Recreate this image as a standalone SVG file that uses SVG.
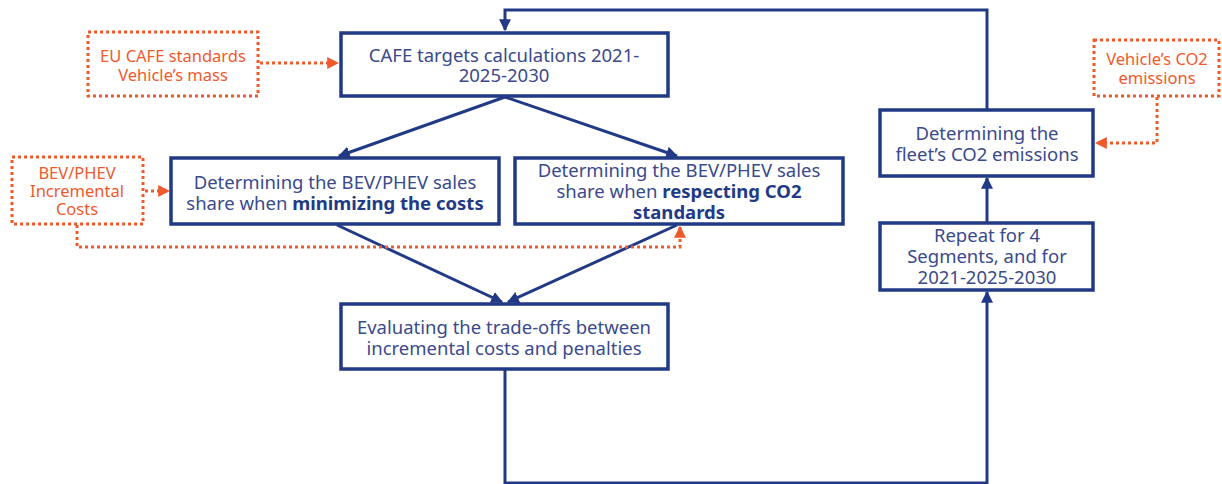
<svg xmlns="http://www.w3.org/2000/svg" width="1222" height="484" viewBox="0 0 1222 484">
<style>
.box{fill:#fff;stroke:#223a86;stroke-width:3.5}
.dbox{fill:none;stroke:#ef5a2c;stroke-width:3;stroke-dasharray:3 3}
.ln{fill:none;stroke:#223a86;stroke-width:3}
.dl{fill:none;stroke:#ef5a2c;stroke-width:3;stroke-dasharray:3 3}
.t{font-family:"Noto Sans","Open Sans",sans-serif;font-size:18.5px;fill:#3a4a8c;text-anchor:middle}
.o{font-family:"Noto Sans","Open Sans",sans-serif;font-size:16.5px;fill:#ef5a2c;text-anchor:middle}
.b{font-weight:bold;fill:#223a86}
</style>
<defs>
<marker id="ab" viewBox="0 0 10 10" refX="9" refY="5" markerWidth="4" markerHeight="4" orient="auto" markerUnits="strokeWidth"><path d="M0,0L10,5L0,10z" fill="#223a86"/></marker>
<marker id="ao" viewBox="0 0 10 10" refX="9" refY="5" markerWidth="4" markerHeight="4" orient="auto" markerUnits="strokeWidth"><path d="M0,0L10,5L0,10z" fill="#ef5a2c"/></marker>
</defs>
<g id="connectors">
<path class="ln" d="M987,110V10H505V30" marker-end="url(#ab)"/>
<path class="ln" d="M505,97L339,156" marker-end="url(#ab)"/>
<path class="ln" d="M505,97L677,156" marker-end="url(#ab)"/>
<path class="ln" d="M337,225L502,302" marker-end="url(#ab)"/>
<path class="ln" d="M677,225L508,302" marker-end="url(#ab)"/>
<path class="ln" d="M505,370V483H987V292" marker-end="url(#ab)"/>
<path class="ln" d="M987,222V178" marker-end="url(#ab)"/>
<path class="dl" d="M260,63H338" marker-end="url(#ao)"/>
<path class="dl" d="M145,191H169" marker-end="url(#ao)"/>
<path class="dl" d="M77,225V247H680V227" marker-end="url(#ao)"/>
<path class="dl" d="M1157,97V143H1096" marker-end="url(#ao)"/>
</g>
<g id="eu-cafe">
<rect class="dbox" x="88" y="32" width="170" height="64"/>
<text class="o" x="173" y="62">EU CAFE standards</text>
<text class="o" x="173" y="81">Vehicle’s mass</text>
</g>
<g id="cafe-targets">
<rect class="box" x="341" y="33" width="327" height="63"/>
<text class="t" x="504" y="62">CAFE targets calculations 2021-</text>
<text class="t" x="504" y="82">2025-2030</text>
</g>
<g id="bev-costs">
<rect class="dbox" x="12" y="157" width="131" height="67"/>
<text class="o" x="77" y="179">BEV/PHEV</text>
<text class="o" x="77" y="197">Incremental</text>
<text class="o" x="77" y="215">Costs</text>
</g>
<g id="min-costs">
<rect class="box" x="171" y="158" width="328" height="66"/>
<text class="t" x="335" y="189">Determining the BEV/PHEV sales</text>
<text class="t" x="335" y="210">share when <tspan class="b">minimizing the costs</tspan></text>
</g>
<g id="respect-co2">
<rect class="box" x="515" y="158" width="328" height="66"/>
<text class="t" x="679" y="177">Determining the BEV/PHEV sales</text>
<text class="t" x="679" y="198">share when <tspan class="b">respecting CO2</tspan></text>
<text class="t" x="679" y="219"><tspan class="b">standards</tspan></text>
</g>
<g id="evaluate">
<rect class="box" x="341" y="304" width="327" height="65"/>
<text class="t" x="504" y="334">Evaluating the trade-offs between</text>
<text class="t" x="504" y="355">incremental costs and penalties</text>
</g>
<g id="vehicle-co2">
<rect class="dbox" x="1094" y="40" width="125" height="56"/>
<text class="o" x="1157" y="65">Vehicle’s CO2</text>
<text class="o" x="1157" y="84">emissions</text>
</g>
<g id="fleet-co2">
<rect class="box" x="880" y="110" width="213" height="66"/>
<text class="t" x="987" y="140">Determining the</text>
<text class="t" x="987" y="161">fleet’s CO2 emissions</text>
</g>
<g id="repeat">
<rect class="box" x="880" y="223" width="213" height="67"/>
<text class="t" x="987" y="242">Repeat for 4</text>
<text class="t" x="987" y="263">Segments, and for</text>
<text class="t" x="987" y="284">2021-2025-2030</text>
</g>
</svg>
